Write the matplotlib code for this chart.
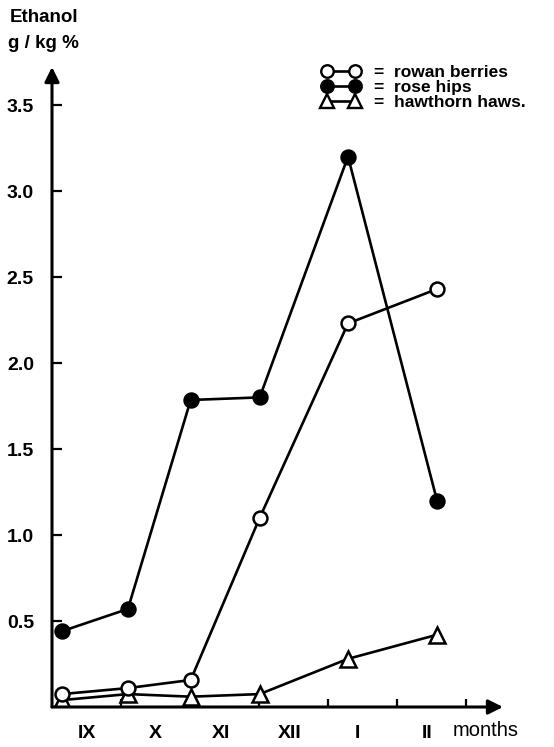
import matplotlib
matplotlib.use("Agg")
import matplotlib.pyplot as plt
from matplotlib.lines import Line2D

plt.rcParams['font.family'] = ['Liberation Sans', 'DejaVu Sans']

# ==============================
# DATA
# ==============================

# sampling time, in months counted from the start of September (IX)
sample_month = [0.14, 1.10, 2.01, 3.01, 4.29, 5.58]

rowan_berries = [0.075, 0.11, 0.157, 1.10, 2.23, 2.43]
rose_hips = [0.44, 0.57, 1.785, 1.80, 3.20, 1.20]
hawthorn_haws = [0.04, 0.075, 0.06, 0.075, 0.28, 0.42]

month_labels = ["IX", "X", "XI", "XII", "I", "II"]
month_label_pos = [0.5, 1.5, 2.45, 3.45, 4.42, 5.43]
month_bounds = [1, 2, 3, 4, 5, 6]
y_ticks = [0.5, 1.0, 1.5, 2.0, 2.5, 3.0, 3.5]

# ==============================
# FIGURE
# ==============================

W, H = 554, 747
fig = plt.figure(figsize=(W / 100, H / 100), dpi=100)

# axes in pixel coordinates: x axis at y=707, y axis at x=52
ax_left, ax_bottom = 52, 707
ax_right, ax_top = 503, 67
ax = fig.add_axes([ax_left / W, 1 - ax_bottom / H,
                   (ax_right - ax_left) / W, (ax_bottom - ax_top) / H])
ax.set_xlim(0, (ax_right - ax_left) / 69.0)
ax.set_ylim(0, (ax_bottom - ax_top) / 172.0)

lw = 1.9
ax.plot(sample_month, hawthorn_haws, color='k', lw=lw, marker='^', ms=11,
        mfc='white', mec='k', mew=1.8, zorder=3)
ax.plot(sample_month, rowan_berries, color='k', lw=lw, marker='o', ms=10,
        mfc='white', mec='k', mew=1.8, zorder=4)
ax.plot(sample_month, rose_hips, color='k', lw=lw, marker='o', ms=10,
        mfc='k', mec='k', mew=1.8, zorder=4)

# axes drawn as arrows
for s in ax.spines.values():
    s.set_visible(False)
arrow = dict(arrowstyle='-|>', lw=2.2, color='k', mutation_scale=22,
             shrinkA=0, shrinkB=0)
ax.annotate('', xy=(0, 1), xytext=(0, 0), xycoords='axes fraction',
            arrowprops=arrow, annotation_clip=False)
ax.annotate('', xy=(1, 0), xytext=(0, 0), xycoords='axes fraction',
            arrowprops=arrow, annotation_clip=False)

ax.set_yticks(y_ticks)
ax.set_yticklabels(["%.1f" % v for v in y_ticks], fontsize=14, fontweight='bold')
ax.tick_params(axis='y', direction='in', length=7, width=1.6, pad=13)

ax.set_xticks(month_bounds)
ax.set_xticklabels([])
ax.tick_params(axis='x', which='major', direction='in', length=6, width=1.6)
ax.set_xticks(month_label_pos, minor=True)
ax.set_xticklabels(month_labels, minor=True, fontsize=14, fontweight='bold')
ax.tick_params(axis='x', which='minor', length=0, pad=13)

fig.text(453 / W, 1 - 731 / H, "months", fontsize=14.5, va='center', ha='left')
fig.text(10 / W, 1 - 17 / H, "Ethanol", fontsize=13.5, fontweight='bold',
         va='center', ha='left')
fig.text(8 / W, 1 - 43 / H, "g / kg %", fontsize=13.5, fontweight='bold',
         va='center', ha='left')

# legend
handles = [
    Line2D([], [], color='k', lw=lw, marker='o', ms=9, mfc='white', mec='k', mew=1.7),
    Line2D([], [], color='k', lw=lw, marker='o', ms=9, mfc='k', mec='k', mew=1.7),
    Line2D([], [], color='k', lw=lw, marker='^', ms=10, mfc='white', mec='k', mew=1.7),
]
labels = ["=  rowan berries", "=  rose hips", "=  hawthorn haws."]
fig.legend(handles, labels, numpoints=2, frameon=False, loc='upper left',
           bbox_to_anchor=(322 / W, 1 - 65 / H), borderpad=0, borderaxespad=0,
           handlelength=2.2, handletextpad=0.8, labelspacing=0.0,
           prop={'size': 12.5, 'weight': 'bold'})

fig.savefig("out.png", dpi=100)
